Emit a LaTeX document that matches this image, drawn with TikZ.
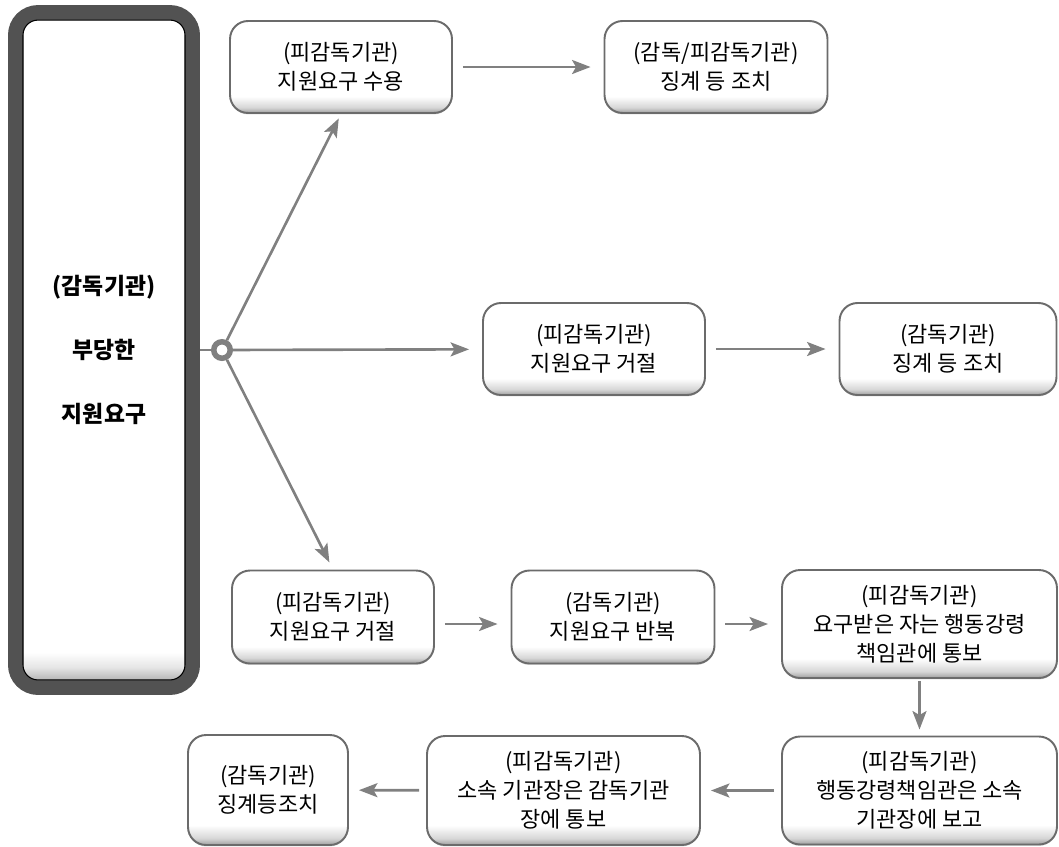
\documentclass[tikz,border=0pt]{standalone}
\usepackage{fontspec}
\setmainfont{Noto Sans CJK KR}
\usetikzlibrary{arrows.meta,shadows}

% shadings: the path is mapped onto 25bp..75bp
\pgfdeclareverticalshading{boxshade}{100bp}{color(0bp)=(black!38); color(25bp)=(black!38); color(28bp)=(black!16); color(34bp)=(white); color(100bp)=(white)}
\pgfdeclareverticalshading{srcshade}{100bp}{color(0bp)=(black!40); color(25bp)=(black!40); color(25.6bp)=(black!28); color(26.5bp)=(black!10); color(27.6bp)=(white); color(100bp)=(white)}

\begin{document}
\begin{tikzpicture}[x=0.02cm,y=-0.02cm,
    stepbox/.style={draw=black!58, line width=1.1pt, rounded corners=0.36cm,
      shading=boxshade, align=center, inner sep=2pt,
      minimum width=4.44cm, minimum height=1.84cm,
      drop shadow={shadow xshift=0pt, shadow yshift=-0.8pt, opacity=0.3},
      font=\fontsize{12.5}{16.5}\selectfont},
    srcbox/.style={draw=black!68, line width=0.3cm, rounded corners=0.45cm,
      shading=srcshade, align=center,
      minimum width=3.54cm, minimum height=13.5cm,
      font=\bfseries\fontsize{13}{36.4}\selectfont},
    hubring/.style={circle, draw=black!50, line width=0.11cm, fill=white,
      minimum size=0.33cm, inner sep=0pt},
    line/.style={draw=black!50, line width=1.5pt},
    arr/.style={line, -{Stealth[length=0.37cm,width=0.28cm,inset=0.08cm]},
      shorten <=0.2cm, shorten >=0.26cm}]
    \useasboundingbox (0,0) rectangle (1059,846);

    % source of the request
    \node[srcbox] (src) at (104,350) {(감독기관)\\부당한\\지원요구};
    \draw[black, line width=0.6pt, rounded corners=0.3cm]
      ([xshift=0.3cm,yshift=-0.3cm]src.north west) rectangle
      ([xshift=-0.3cm,yshift=0.3cm]src.south east);
    \node[hubring] (hub) at (222,350) {};

    % upper branch
    \node[stepbox] (A1) at (341,67) {(피감독기관)\\지원요구 수용};
    \node[stepbox, minimum width=4.46cm] (A2) at (716,67) {(감독/피감독기관)\\징계 등 조치};

    % middle branch
    \node[stepbox] (B1) at (594,349) {(피감독기관)\\지원요구 거절};
    \node[stepbox, minimum width=4.34cm] (B2) at (948,349) {(감독기관)\\징계 등 조치};

    % lower branch
    \node[stepbox, minimum width=4.04cm, minimum height=1.86cm] (C1) at (333,617) {(피감독기관)\\지원요구 거절};
    \node[stepbox, minimum width=4.06cm, minimum height=1.86cm] (C2) at (613,617) {(감독기관)\\지원요구 반복};
    \node[stepbox, minimum width=5.5cm, minimum height=2.16cm] (C3) at (919.5,624) {(피감독기관)\\요구받은 자는 행동강령\\책임관에 통보};
    \node[stepbox, minimum width=5.5cm, minimum height=2.16cm] (D3) at (919.5,790.5) {(피감독기관)\\행동강령책임관은 소속\\기관장에 보고};
    \node[stepbox, minimum width=5.46cm, minimum height=2.18cm] (D2) at (563.5,790.5) {(피감독기관)\\소속 기관장은 감독기관\\장에 통보};
    \node[stepbox, minimum width=3.2cm, minimum height=2.2cm] (D1) at (268,790) {(감독기관)\\징계등조치};

    % connectors
    \draw[line] (src.east) -- (hub);
    \draw[arr, shorten <=0pt, shorten >=0.1cm] (hub) -- (A1.south);
    \draw[arr, shorten <=0pt] (hub) -- (B1);
    \draw[arr, shorten <=0pt, shorten >=0.16cm] (hub) -- (C1.north);
    \draw[arr] (A1) -- (A2);
    \draw[arr] (B1) -- (B2);
    \draw[arr] (C1.east |- C3) -- (C2.west |- C3);
    \draw[arr] (C2.east |- C3) -- (C3.west);
    \draw[arr, shorten <=0.04cm, shorten >=0.12cm] (C3) -- (D3);
    \draw[arr, shorten <=0.14cm, shorten >=0.2cm] (D3) -- (D2);
    \draw[arr, shorten <=0.14cm, shorten >=0.2cm] (D2) -- (D1);
\end{tikzpicture}
\end{document}
